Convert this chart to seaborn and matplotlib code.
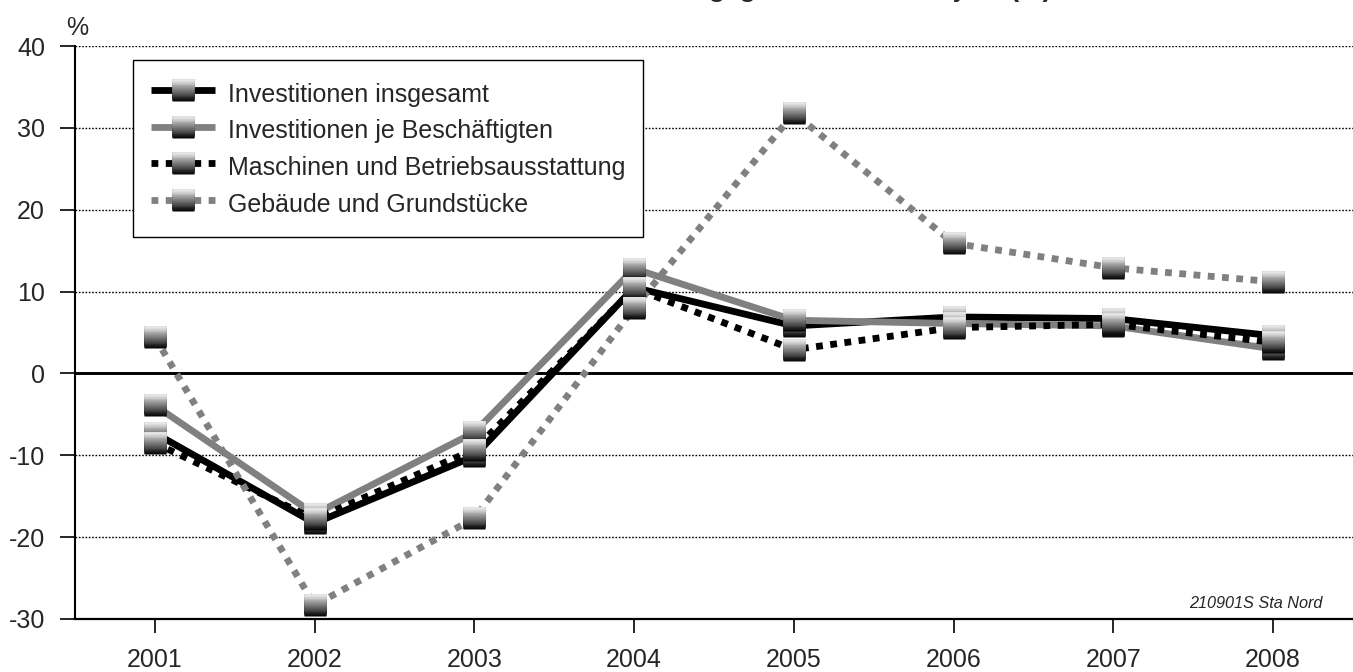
import numpy as np
import pandas as pd
import matplotlib
matplotlib.use("Agg")
import matplotlib.pyplot as plt
from matplotlib.path import Path
from matplotlib.lines import Line2D
import seaborn as sns

# data
years = ["2001", "2002", "2003", "2004", "2005", "2006", "2007", "2008"]
insgesamt = [-7.3, -18.3, -10.1, 10.5, 5.8, 6.9, 6.7, 4.6]
je_beschaeftigten = [-3.9, -17.2, -7.2, 12.8, 6.5, 6.1, 5.8, 3.0]
maschinen = [-8.5, -17.8, -9.3, 10.4, 2.9, 5.6, 6.0, 3.8]
gebaeude = [4.4, -28.3, -17.7, 8.0, 31.8, 15.9, 12.9, 11.2]

labels = ["Investitionen insgesamt", "Investitionen je Beschäftigten",
          "Maschinen und Betriebsausstattung", "Gebäude und Grundstücke"]
series = [insgesamt, je_beschaeftigten, maschinen, gebaeude]
colors = ["#000000", "#808080", "#000000", "#808080"]
dashes = [None, None, (1, 1.1), (1, 1.1)]

sns.set_style("white")
plt.rcParams["font.family"] = ["Liberation Sans", "DejaVu Sans"]
plt.rcParams["axes.unicode_minus"] = False

W, H = 1353, 672
fig = plt.figure(figsize=(W / 100, H / 100), dpi=100)
ax = fig.add_axes([75 / W, (H - 619) / H, 1278 / W, 573 / H])

x = np.arange(len(years))
LW = 4.9
FS = 18

for vals, c, d in zip(series, colors, dashes):
    kw = dict(color=c, lw=LW, solid_capstyle="butt", dash_capstyle="butt")
    if d is not None:
        kw["dashes"] = d
    sns.lineplot(x=x, y=vals, ax=ax, zorder=3, **kw)


# gradient square marker: each layer covers from its lower edge to the top,
# drawn dark to light so every layer hides the top of the previous one
def layer(y0):
    verts = [(-1, y0), (1, y0), (1, 1), (-1, 1), (-1, y0)]
    codes = [Path.MOVETO, Path.LINETO, Path.LINETO, Path.LINETO,
             Path.CLOSEPOLY]
    return Path(verts, codes)


N = 24
edges = np.linspace(-1, 1, N + 1)
layers = []
for i in range(N):
    t = (i + 0.5) / N
    g = 0.94 * t
    layers.append((layer(edges[i]), (g, g, g)))

MS = 16
for vals in series:
    for p, g in layers:
        ax.plot(x, vals, ls="none", marker=p, ms=MS, color=g, mec="none",
                zorder=5)

ax.axhline(0, color="black", lw=2.1, zorder=2)

ax.set_xlim(-0.5, len(years) - 0.5)
ax.set_ylim(-30, 40)
ax.set_xticks(x)
ax.set_xticklabels(years)
ax.set_yticks(np.arange(-30, 41, 10))
ax.set_xlabel("")
ax.set_ylabel("")
ax.yaxis.grid(True, color="black", lw=1.0, linestyle=(0, (1.2, 1.2)))
ax.xaxis.grid(False)
for s in ["top", "right"]:
    ax.spines[s].set_visible(False)
ax.spines["left"].set_linewidth(1.5)
ax.spines["bottom"].set_linewidth(1.6)
ax.spines["left"].set_color("black")
ax.spines["bottom"].set_color("black")
ax.tick_params(axis="y", direction="out", length=10.8, width=1.4, pad=10.8,
               labelsize=FS, left=True)
ax.tick_params(axis="x", direction="out", length=10, width=1.4, pad=11,
               labelsize=FS, bottom=True)

# legend with gradient markers
handles = []
for c, d in zip(colors, dashes):
    kw = dict(color=c, lw=LW, solid_capstyle="butt", dash_capstyle="butt")
    if d is not None:
        kw["dashes"] = d
    h = [Line2D([], [], **kw)]
    for p, g in layers:
        h.append(Line2D([], [], ls="none", marker=p, ms=MS, color=g, mec="none"))
    handles.append(tuple(h))

leg = ax.legend(handles, labels, loc="upper left",
                bbox_to_anchor=((133 - 75) / 1278, 1 - (60 - 46) / 573),
                borderaxespad=0, fontsize=FS, numpoints=1,
                handlelength=2.55, handleheight=1.52, handletextpad=0.52,
                labelspacing=0.24, borderpad=0.72, fancybox=False,
                framealpha=1, edgecolor="black")
leg.get_frame().set_linewidth(1.0)
leg.set_zorder(10)

ax.text((1322 - 75) / 1278, (619 - 604) / 573, "210901S Sta Nord",
        ha="right", va="center", fontsize=11.7, style="italic",
        transform=ax.transAxes)

fig.text(77 / W, 1 - 28 / H, "%", ha="center", va="center", fontsize=FS)
fig.text(1052 / W, 1 + 2.5 / H,
         "Investitionen im Verarbeitenden Gewerbe gegenüber dem Vorjahr (%)",
         ha="right", va="baseline", fontsize=19, fontweight="bold")

fig.savefig("out.png", dpi=100)
